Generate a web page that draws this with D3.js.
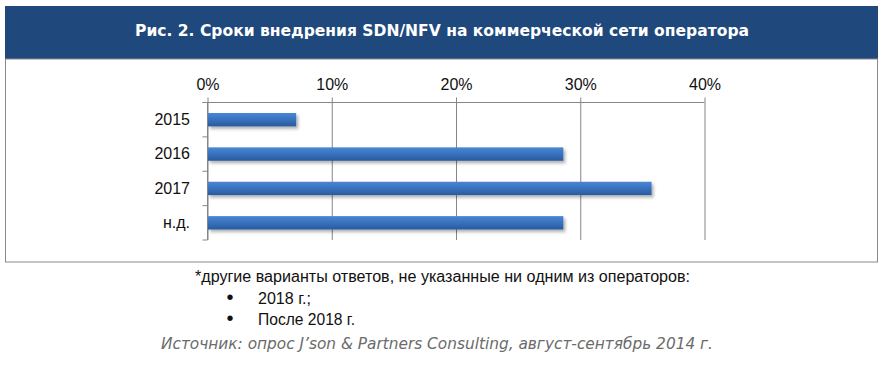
<!DOCTYPE html>
<html>

<head>
  <meta charset="utf-8">
  <title>SDN/NFV</title>
  <script src="https://cdn.jsdelivr.net/npm/d3@7"></script>
  <style>
    body { margin: 0; background: #fff; }
    text { font-family: "Liberation Sans", Arial, sans-serif; }
  </style>
</head>

<body>
  <svg width="889" height="372" id="mainsvg"></svg>
  <script>
    // data
    const categories = ['2015', '2016', '2017', 'н.д.'];
    const values = [0.071, 0.286, 0.357, 0.286];
    const tickValues = [0, 0.1, 0.2, 0.3, 0.4];
    const title = 'Рис. 2. Сроки внедрения SDN/NFV на коммерческой сети оператора';
    const footnote = '*другие варианты ответов, не указанные ни одним из операторов:';
    const bullets = ['2018 г.;', 'После 2018 г.'];
    const source = 'Источник: опрос J’son & Partners Consulting, август-сентябрь 2014 г.';

    const svg = d3.select('#mainsvg');

    const plot = { left: 207.5, right: 704.5, top: 102.5, bottom: 240 };

    // header band + frame
    svg.append('rect').attr('x', 5).attr('y', 6).attr('width', 873).attr('height', 53)
      .attr('fill', '#1f497d');
    svg.append('rect').attr('x', 5.5).attr('y', 59).attr('width', 872).attr('height', 203)
      .attr('fill', 'none').attr('stroke', '#8a8a8a');
    svg.append('text')
      .attr('x', 442).attr('y', 35.5)
      .attr('text-anchor', 'middle')
      .attr('fill', '#fff')
      .style('font-family', '"DejaVu Sans", Verdana, sans-serif')
      .style('font-weight', 'bold')
      .style('font-size', '15.5px')
      .attr('textLength', 614).attr('lengthAdjust', 'spacingAndGlyphs')
      .text(title);

    const defs = svg.append('defs');
    const grad = defs.append('linearGradient').attr('id', 'barGrad')
      .attr('x1', 0).attr('y1', 0).attr('x2', 0).attr('y2', 1);
    grad.append('stop').attr('offset', '0%').attr('stop-color', '#4a87d2');
    grad.append('stop').attr('offset', '45%').attr('stop-color', '#3a73c0');
    grad.append('stop').attr('offset', '100%').attr('stop-color', '#2a5a9c');
    const shadow = defs.append('filter').attr('id', 'shadow')
      .attr('x', '-5%').attr('y', '-40%').attr('width', '115%').attr('height', '200%');
    shadow.append('feDropShadow').attr('dx', 2).attr('dy', 2.5).attr('stdDeviation', 1.5)
      .attr('flood-color', '#000').attr('flood-opacity', 0.3);

    const xScale = d3.scaleLinear().domain([0, 0.4]).range([plot.left, plot.right]);
    const yScale = d3.scaleBand()
      .domain(categories)
      .range([plot.top, plot.bottom])
      .paddingInner(0.61)
      .paddingOuter(0.305);

    // gridlines and top axis
    const xAxis = d3.axisTop(xScale)
      .tickValues(tickValues)
      .tickFormat(d3.format('.0%'))
      .tickSizeInner(-(plot.bottom - plot.top))
      .tickSizeOuter(0)
      .tickPadding(13);
    const xAxisGroup = svg.append('g')
      .attr('transform', `translate(0, ${plot.top})`)
      .call(xAxis);
    xAxisGroup.select('.domain').remove();
    xAxisGroup.selectAll('.tick line').attr('y1', -5).attr('stroke', '#868686');
    xAxisGroup.selectAll('.tick text')
      .attr('fill', '#111').style('font-size', '16px');
    svg.append('line')
      .attr('x1', plot.left - 5).attr('x2', plot.right)
      .attr('y1', plot.top).attr('y2', plot.top)
      .attr('stroke', '#868686');

    // left axis: category labels + boundary ticks
    const yAxis = d3.axisLeft(yScale).tickSize(0).tickPadding(17.5);
    const yAxisGroup = svg.append('g')
      .attr('transform', `translate(${plot.left}, 0)`)
      .call(yAxis);
    yAxisGroup.select('.domain').remove();
    yAxisGroup.selectAll('.tick text')
      .attr('fill', '#111').style('font-size', '16px');
    svg.append('line')
      .attr('x1', plot.left).attr('x2', plot.left)
      .attr('y1', plot.top).attr('y2', plot.bottom)
      .attr('stroke', '#868686');
    const bounds = d3.range(categories.length + 1).map(i => plot.top + i * yScale.step());
    svg.selectAll('.ytick').data(bounds).enter().append('line')
      .attr('class', 'ytick')
      .attr('x1', plot.left - 5).attr('x2', plot.left)
      .attr('y1', d => d).attr('y2', d => d)
      .attr('stroke', '#868686');

    // bars
    svg.append('g').selectAll('rect')
      .data(categories)
      .enter()
      .append('rect')
      .attr('x', xScale(0) + 0.5)
      .attr('y', d => yScale(d))
      .attr('width', (d, i) => xScale(values[i]) - xScale(0))
      .attr('height', yScale.bandwidth())
      .attr('fill', 'url(#barGrad)')
      .attr('filter', 'url(#shadow)');

    // footnote
    const noteFont = '"Liberation Sans Narrow", "Liberation Sans", Arial, sans-serif';
    svg.append('text')
      .attr('x', 195).attr('y', 282)
      .attr('fill', '#111')
      .style('font-family', noteFont).style('font-size', '16px')
      .attr('textLength', 495).attr('lengthAdjust', 'spacingAndGlyphs')
      .text(footnote);
    bullets.forEach((b, i) => {
      const y = 303.5 + i * 21.5;
      svg.append('text').attr('x', 230).attr('y', y).attr('text-anchor', 'middle')
        .attr('fill', '#111').style('font-size', '20px').text('•');
      svg.append('text').attr('x', 258).attr('y', y)
        .attr('fill', '#111')
        .style('font-family', noteFont).style('font-size', '16px')
        .attr('textLength', i === 0 ? 53 : 97).attr('lengthAdjust', 'spacingAndGlyphs')
        .text(b);
    });

    svg.append('text')
      .attr('x', 161).attr('y', 349)
      .attr('fill', '#6b6b6b')
      .style('font-family', '"DejaVu Sans", Verdana, sans-serif')
      .style('font-style', 'italic').style('font-size', '15px')
      .attr('textLength', 552).attr('lengthAdjust', 'spacingAndGlyphs')
      .text(source);
  </script>
</body>

</html>
